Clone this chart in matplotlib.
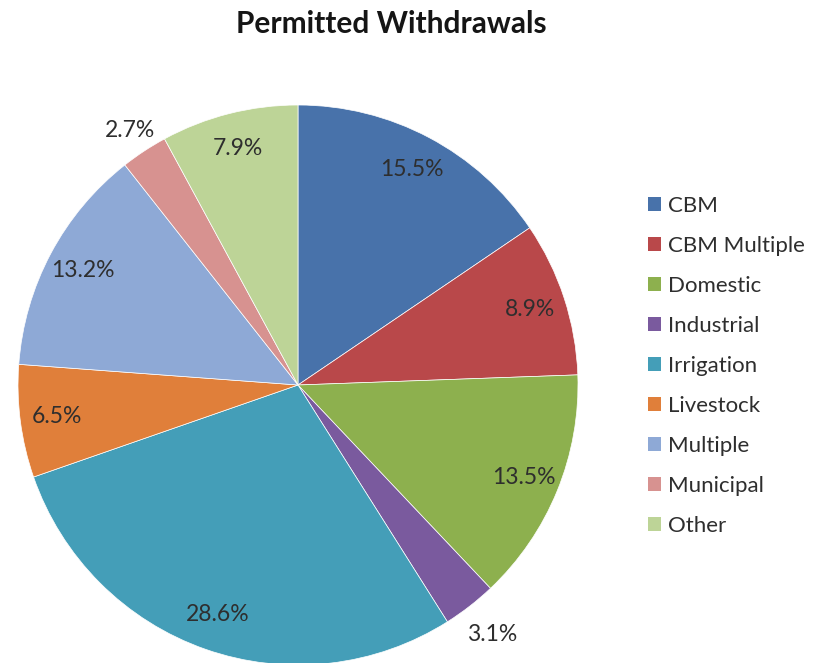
import matplotlib
matplotlib.use("Agg")
import matplotlib.pyplot as plt
from matplotlib.patches import Patch
import numpy as np

categories = ["CBM", "CBM Multiple", "Domestic", "Industrial", "Irrigation",
              "Livestock", "Multiple", "Municipal", "Other"]
values = [15.5, 8.9, 13.5, 3.1, 28.6, 6.5, 13.2, 2.7, 7.9]
labels = ["15.5%", "8.9%", "13.5%", "3.1%", "28.6%", "6.5%", "13.2%", "2.7%", "7.9%"]
colors = ["#4872AA", "#B9484A", "#8DB04E", "#7A5A9E", "#449EB8",
          "#E07F3A", "#8EA9D6", "#D79290", "#BDD497"]

plt.rcParams['font.family'] = ['Lato', 'DejaVu Sans']

W, H = 821, 663
fig = plt.figure(figsize=(W / 100, H / 100), dpi=100)
cx, cy, r = 298, 385, 280
ax = fig.add_axes([(cx - r) / W, (H - cy - r) / H, 2 * r / W, 2 * r / H])

wedges, _ = ax.pie(values, colors=colors, startangle=90, counterclock=False,
                   radius=1.0, wedgeprops=dict(linewidth=0.5, edgecolor="white"))
ax.set_xlim(-1, 1)
ax.set_ylim(-1, 1)
ax.set_aspect('equal')
ax.axis('off')

total = sum(values)
cum = 0
outside = {3: 1.13, 7: 1.09}
for i, (v, lab) in enumerate(zip(values, labels)):
    mid = cum + v / 2
    cum += v
    ang = np.deg2rad(90 - mid / total * 360)
    d = outside.get(i, 0.87)
    ax.text(d * np.cos(ang), d * np.sin(ang), lab, ha='center', va='center',
            fontsize=16.5, color='#2e2e2e', clip_on=False)

fig.text(391 / W, 1 - 24 / H, "Permitted Withdrawals", ha='center', va='center',
         fontsize=21.5, fontweight='bold', color='#151515')

handles = [Patch(facecolor=c, edgecolor='none') for c in colors]
leg = fig.legend(handles, categories, loc='upper left',
                 bbox_to_anchor=(639 / W, 1 - 187 / H), frameon=False,
                 fontsize=16, handlelength=0.6, handleheight=0.6,
                 handletextpad=0.3, labelspacing=0.9, borderaxespad=0)
for t in leg.get_texts():
    t.set_color('#2e2e2e')

fig.savefig("out.png", dpi=100, facecolor='white')
